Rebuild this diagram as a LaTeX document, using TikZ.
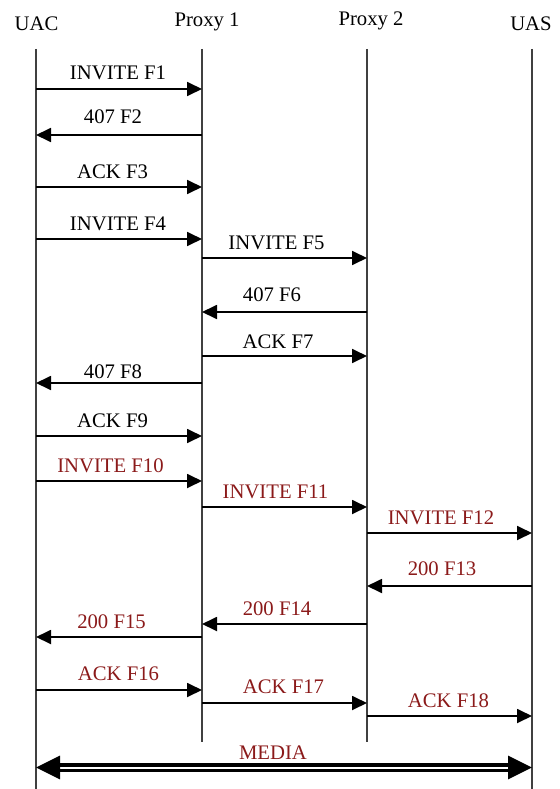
\documentclass[tikz,border=0pt]{standalone}
\usepackage{fontspec}
\setmainfont{Liberation Serif}
\usetikzlibrary{arrows.meta}

\definecolor{sipred}{RGB}{139,26,26}
\tikzset{
  hdr/.style={anchor=base, inner sep=0pt, font=\fontsize{20.7}{25}\selectfont},
  lbl/.style={anchor=base, inner sep=0pt, font=\fontsize{20.7}{25}\selectfont},
  lblred/.style={lbl, text=sipred},
  life/.style={black!75, line width=1.6pt},
  msg/.style={black, line width=1.8pt, -{Triangle[length=15pt, width=14pt]}},
  media/.style={black, double, line width=3.4pt, double distance=2pt,
    {Triangle[length=24pt, width=23pt]}-{Triangle[length=24pt, width=23pt]}}
}

\begin{document}
\begin{tikzpicture}[x=1pt,y=-1pt]
\useasboundingbox (0,0) rectangle (559,789);
% lifelines
\node[hdr] (uac) at (36.5,31) {UAC};
\node[hdr] (px1) at (207,26.5) {Proxy 1};
\node[hdr] (px2) at (371,26) {Proxy 2};
\node[hdr] (uas) at (531,31) {UAS};
\coordinate (uacT) at (36,49);  \coordinate (uacB) at (36,789);
\coordinate (px1T) at (202,49); \coordinate (px1B) at (202,742);
\coordinate (px2T) at (367,49); \coordinate (px2B) at (367,742);
\coordinate (uasT) at (532,49); \coordinate (uasB) at (532,789);
\draw[life] (uacT) -- (uacB);
\draw[life] (px1T) -- (px1B);
\draw[life] (px2T) -- (px2B);
\draw[life] (uasT) -- (uasB);
% first INVITE, challenged by proxy 1
\coordinate (f1) at (0,89);   \draw[msg] (uacT |- f1) -- (px1T |- f1);
\node[lbl] (f1lbl) at (118,80) {INVITE F1};
\coordinate (f2) at (0,135);  \draw[msg] (px1T |- f2) -- (uacT |- f2);
\node[lbl] (f2lbl) at (113,124) {407 F2};
\coordinate (f3) at (0,187);  \draw[msg] (uacT |- f3) -- (px1T |- f3);
\node[lbl] (f3lbl) at (112.5,178) {ACK F3};
% second INVITE, challenged by proxy 2
\coordinate (f4) at (0,239);  \draw[msg] (uacT |- f4) -- (px1T |- f4);
\node[lbl] (f4lbl) at (118,230) {INVITE F4};
\coordinate (f5) at (0,258);  \draw[msg] (px1T |- f5) -- (px2T |- f5);
\node[lbl] (f5lbl) at (276.5,249) {INVITE F5};
\coordinate (f6) at (0,312);  \draw[msg] (px2T |- f6) -- (px1T |- f6);
\node[lbl] (f6lbl) at (272,301) {407 F6};
\coordinate (f7) at (0,356);  \draw[msg] (px1T |- f7) -- (px2T |- f7);
\node[lbl] (f7lbl) at (278,348) {ACK F7};
\coordinate (f8) at (0,383);  \draw[msg] (px1T |- f8) -- (uacT |- f8);
\node[lbl] (f8lbl) at (113,378) {407 F8};
\coordinate (f9) at (0,436);  \draw[msg] (uacT |- f9) -- (px1T |- f9);
\node[lbl] (f9lbl) at (112.5,427) {ACK F9};
% third INVITE, accepted
\coordinate (f10) at (0,481); \draw[msg] (uacT |- f10) -- (px1T |- f10);
\node[lblred] (f10lbl) at (110.5,472) {INVITE F10};
\coordinate (f11) at (0,507); \draw[msg] (px1T |- f11) -- (px2T |- f11);
\node[lblred] (f11lbl) at (275.5,498) {INVITE F11};
\coordinate (f12) at (0,533); \draw[msg] (px2T |- f12) -- (uasT |- f12);
\node[lblred] (f12lbl) at (441,524) {INVITE F12};
\coordinate (f13) at (0,586); \draw[msg] (uasT |- f13) -- (px2T |- f13);
\node[lblred] (f13lbl) at (442,575) {200 F13};
\coordinate (f14) at (0,624); \draw[msg] (px2T |- f14) -- (px1T |- f14);
\node[lblred] (f14lbl) at (277,615) {200 F14};
\coordinate (f15) at (0,637); \draw[msg] (px1T |- f15) -- (uacT |- f15);
\node[lblred] (f15lbl) at (111.5,628) {200 F15};
\coordinate (f16) at (0,690); \draw[msg] (uacT |- f16) -- (px1T |- f16);
\node[lblred] (f16lbl) at (118.5,680) {ACK F16};
\coordinate (f17) at (0,703); \draw[msg] (px1T |- f17) -- (px2T |- f17);
\node[lblred] (f17lbl) at (283.5,693) {ACK F17};
\coordinate (f18) at (0,716); \draw[msg] (px2T |- f18) -- (uasT |- f18);
\node[lblred] (f18lbl) at (448.5,707) {ACK F18};
% media
\coordinate (md) at (0,767.5); \draw[media] (uacT |- md) -- (uasT |- md);
\node[lblred] (mdlbl) at (273,759) {MEDIA};
\end{tikzpicture}
\end{document}
